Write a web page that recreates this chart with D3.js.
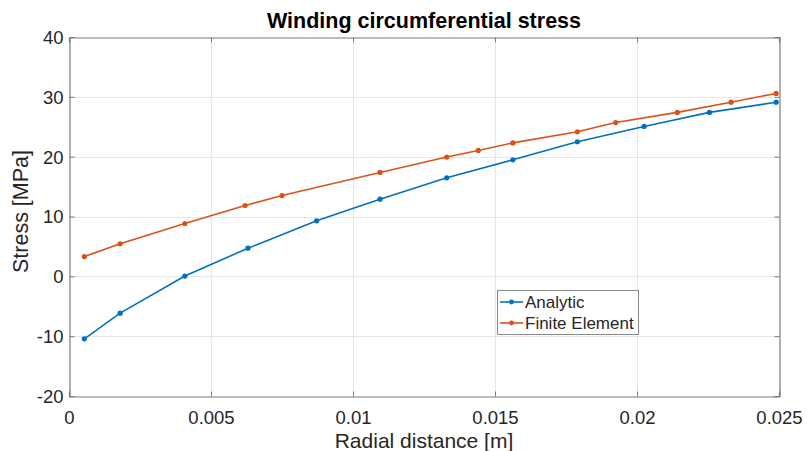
<!DOCTYPE html>
<html>
<head>
<meta charset="utf-8">
<script src="https://cdn.jsdelivr.net/npm/d3@7"></script>
<style>
  html, body { margin: 0; padding: 0; background: #fff; }
  svg { display: block; font-family: "Liberation Sans", Arial, Helvetica, sans-serif; }
</style>
</head>
<body>
<svg id="chart" width="807" height="451"></svg>
<script>
// Radial positions [m] and circumferential stress [MPa]
const analyticR = [0.00054, 0.0018, 0.00408, 0.0063, 0.00872, 0.01095, 0.0133, 0.01563, 0.0179, 0.02025, 0.02255, 0.0249];
const analyticS = [-10.45, -6.15, 0.05, 4.7, 9.28, 12.9, 16.47, 19.48, 22.49, 25.05, 27.4, 29.1];
const feR = [0.00054, 0.0018, 0.00408, 0.0062, 0.0075, 0.01095, 0.0133, 0.01441, 0.01563, 0.0179, 0.01925, 0.02142, 0.02331, 0.0249];
const feS = [3.3, 5.43, 8.83, 11.84, 13.5, 17.36, 19.93, 21.04, 22.3, 24.16, 25.7, 27.4, 29.1, 30.57];

const xTicks = [0, 0.005, 0.01, 0.015, 0.02, 0.025];
const xTickLabels = ["0", "0.005", "0.01", "0.015", "0.02", "0.025"];
const yTicks = [-20, -10, 0, 10, 20, 30, 40];
const yTickLabels = ["-20", "-10", "0", "10", "20", "30", "40"];

const seriesNames = ["Analytic", "Finite Element"];
const seriesColors = ["#0072BD", "#D95319"];

const svg = d3.select("#chart");
const m = { left: 69, right: 779, top: 37, bottom: 396 };

const x = d3.scaleLinear().domain([0, 0.025]).range([m.left, m.right]);
const y = d3.scaleLinear().domain([-20, 40]).range([m.bottom, m.top]);

// grid
const grid = svg.append("g");
grid.selectAll("line.gx").data(xTicks.slice(1, -1)).join("line")
  .attr("x1", d => Math.round(x(d)) + 0.5).attr("x2", d => Math.round(x(d)) + 0.5)
  .attr("y1", m.top).attr("y2", m.bottom)
  .attr("stroke", "#e6e6e6").attr("stroke-width", 1);
grid.selectAll("line.gy").data(yTicks.slice(1, -1)).join("line")
  .attr("y1", d => Math.round(y(d)) + 0.5).attr("y2", d => Math.round(y(d)) + 0.5)
  .attr("x1", m.left).attr("x2", m.right)
  .attr("stroke", "#e6e6e6").attr("stroke-width", 1);

// axes
const tickColor = "#262626";
const axisStroke = "#7a7a7a";
const xAxis = d3.axisBottom(x).tickValues(xTicks).tickSize(-5).tickPadding(14)
  .tickFormat((d, i) => xTickLabels[i]);
const yAxis = d3.axisLeft(y).tickValues(yTicks).tickSize(-5).tickPadding(6)
  .tickFormat((d, i) => yTickLabels[i]);

const gx = svg.append("g").attr("transform", `translate(0,${m.bottom + 0.5})`).call(xAxis);
const gy = svg.append("g").attr("transform", `translate(${m.left + 0.5},0)`).call(yAxis);
const gxTop = svg.append("g").attr("transform", `translate(0,${m.top + 0.5})`)
  .call(d3.axisTop(x).tickValues(xTicks).tickSize(-5).tickFormat(""));
const gyRight = svg.append("g").attr("transform", `translate(${m.right + 0.5},0)`)
  .call(d3.axisRight(y).tickValues(yTicks).tickSize(-5).tickFormat(""));

[gx, gy, gxTop, gyRight].forEach(g => {
  g.select(".domain").attr("stroke", axisStroke).attr("stroke-width", 1.2);
  g.selectAll(".tick line").attr("stroke", axisStroke);
  g.selectAll(".tick text").attr("fill", tickColor).style("font-size", "18.5px")
    .style("font-family", "'Liberation Sans', Arial, sans-serif");
});
gx.selectAll(".tick text").attr("dy", "0.71em");
gy.selectAll(".tick text").attr("dy", "0.35em");

// series
const series = [
  { name: seriesNames[0], r: analyticR, s: analyticS, color: seriesColors[0] },
  { name: seriesNames[1], r: feR, s: feS, color: seriesColors[1] }
];
const line = d3.line().x(d => x(d[0])).y(d => y(d[1]));

series.forEach(sr => {
  const pts = sr.r.map((r, i) => [r, sr.s[i]]);
  svg.append("path").datum(pts)
    .attr("d", line).attr("fill", "none")
    .attr("stroke", sr.color).attr("stroke-width", 1.6);
  svg.append("g").selectAll("circle").data(pts).join("circle")
    .attr("cx", d => x(d[0])).attr("cy", d => y(d[1])).attr("r", 2.6)
    .attr("fill", sr.color);
});

// title and labels
svg.append("text").attr("x", (m.left + m.right) / 2).attr("y", 28)
  .attr("text-anchor", "middle").attr("font-weight", "bold")
  .attr("fill", "#000").style("font-size", "21.5px").text("Winding circumferential stress");

svg.append("text").attr("x", (m.left + m.right) / 2).attr("y", 448)
  .attr("text-anchor", "middle").attr("fill", tickColor)
  .style("font-size", "21px").text("Radial distance [m]");

svg.append("text")
  .attr("transform", `translate(28,${(m.top + m.bottom) / 2 - 5}) rotate(-90)`)
  .attr("text-anchor", "middle").attr("fill", tickColor)
  .style("font-size", "21.5px").text("Stress [MPa]");

// legend
const lg = svg.append("g").attr("transform", "translate(497,290)");
lg.append("rect").attr("x", 0.5).attr("y", 0.5).attr("width", 141).attr("height", 44)
  .attr("fill", "#fff").attr("stroke", "#8a8a8a").attr("stroke-width", 1);
series.forEach((sr, i) => {
  const yy = 12 + i * 21;
  lg.append("line").attr("x1", 3).attr("x2", 26).attr("y1", yy).attr("y2", yy)
    .attr("stroke", sr.color).attr("stroke-width", 1.6);
  lg.append("circle").attr("cx", 14.5).attr("cy", yy).attr("r", 2.4).attr("fill", sr.color);
  lg.append("text").attr("x", 28).attr("y", yy).attr("dy", "0.35em")
    .attr("fill", tickColor).style("font-size", "17px").text(sr.name);
});
</script>
</body>
</html>
